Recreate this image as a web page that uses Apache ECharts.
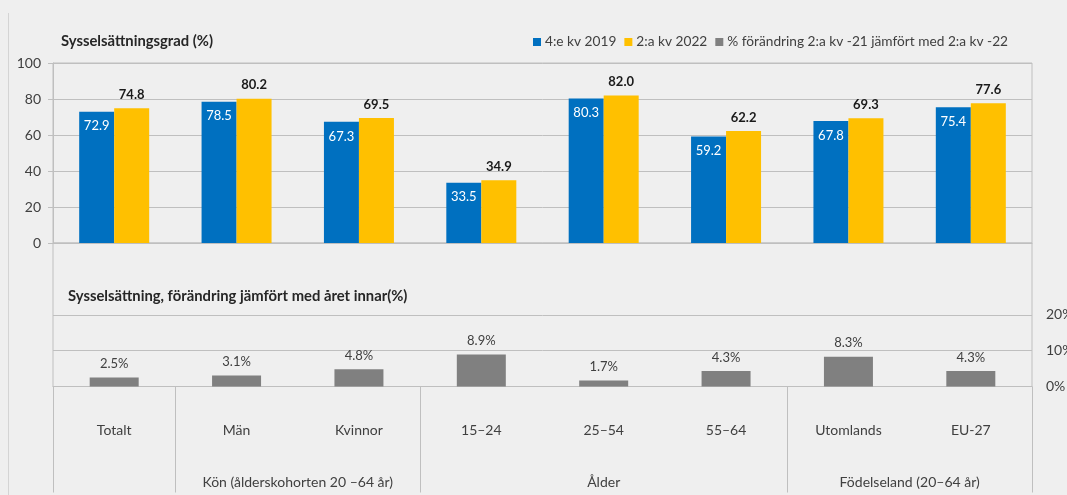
<!DOCTYPE html>
<html>
<head>
<meta charset="utf-8">
<script src="https://cdn.jsdelivr.net/npm/echarts@6/dist/echarts.min.js"></script>
<style>
html, body { margin: 0; padding: 0; background: #efefef; }
#chart { width: 1067px; height: 495px; }
</style>
</head>
<body>
<div id="chart"></div>
<script>
const categories = ['Totalt', 'Män', 'Kvinnor', '15–24', '25–54', '55–64', 'Utomlands', 'EU-27']
const groups = [
  { name: '', span: 1 },
  { name: 'Kön (ålderskohorten 20 –64 år)', span: 2 },
  { name: 'Ålder', span: 3 },
  { name: 'Födelseland (20–64 år)', span: 2 }
]
const rate2019 = [72.9, 78.5, 67.3, 33.5, 80.3, 59.2, 67.8, 75.4]
const rate2022 = [74.8, 80.2, 69.5, 34.9, 82.0, 62.2, 69.3, 77.6]
const change = [2.5, 3.1, 4.8, 8.9, 1.7, 4.3, 8.3, 4.3]
const changeTicks = [0, 10, 20]

const font = 'Lato, "Noto Sans", sans-serif'
const grey = '#bfbfbf'
const textColor = '#404040'

// gruppgränser och gruppmitter (i kategorienheter)
let pos = 0
const groupEdges = [0]
const groupCenters = []
groups.forEach(g => {
  groupCenters.push(pos + g.span / 2)
  pos += g.span
  groupEdges.push(pos)
})

const chart = echarts.init(document.getElementById('chart'))
chart.setOption({
  backgroundColor: '#efefef',
  textStyle: { fontFamily: font },
  animation: false,
  title: [
    {
      text: 'Sysselsättningsgrad (%)',
      left: 61,
      top: 34,
      padding: 0,
      textStyle: { fontFamily: font, fontSize: 14.8, fontWeight: 'bold', color: '#262626' }
    },
    {
      text: 'Sysselsättning, förändring jämfört med året innar(%)',
      left: 68,
      top: 289,
      padding: 0,
      textStyle: { fontFamily: font, fontSize: 14.8, fontWeight: 'bold', color: '#262626' }
    }
  ],
  legend: {
    left: 533,
    top: 35,
    padding: 0,
    icon: 'rect',
    itemWidth: 8,
    itemHeight: 8,
    itemGap: 8,
    textStyle: { fontFamily: font, fontSize: 13.7, color: textColor, padding: [0, 0, 0, -1] },
    data: ['4:e kv 2019', '2:a kv 2022', '% förändring 2:a kv -21 jämfört med 2:a kv -22']
  },
  graphic: [{
    type: 'line',
    shape: { x1: 8.5, y1: 13, x2: 8.5, y2: 495 },
    style: { stroke: '#d4d4d4', lineWidth: 1 }
  }],
  grid: [
    { left: 53, right: 35, top: 63, height: 180, show: true, borderColor: grey, borderWidth: 1, backgroundColor: 'transparent', outerBoundsMode: 'none' },
    { left: 53, right: 35, top: 243, height: 143.5, show: true, borderColor: grey, borderWidth: 1, backgroundColor: 'transparent', outerBoundsMode: 'none' }
  ],
  xAxis: [
    {
      type: 'category',
      gridIndex: 0,
      data: categories,
      axisLine: { lineStyle: { color: grey } },
      axisTick: { interval: 0, length: 5, lineStyle: { color: grey } },
      axisLabel: { show: false }
    },
    {
      type: 'category',
      gridIndex: 1,
      data: categories,
      axisLine: { lineStyle: { color: grey } },
      axisTick: { interval: 0, length: 53, lineStyle: { color: grey } },
      axisLabel: { interval: 0, margin: 37, fontSize: 14, color: textColor, fontFamily: font }
    },
    {
      type: 'value',
      gridIndex: 1,
      position: 'bottom',
      min: 0,
      max: categories.length,
      axisLine: { show: false },
      splitLine: { show: false },
      axisTick: { show: true, customValues: groupEdges, length: 106, lineStyle: { color: grey } },
      axisLabel: {
        customValues: groupCenters,
        margin: 89,
        fontSize: 14,
        color: textColor,
        fontFamily: font,
        formatter: v => {
          const i = groupCenters.indexOf(v)
          return i >= 0 ? groups[i].name : ''
        }
      }
    }
  ],
  yAxis: [
    {
      type: 'value',
      gridIndex: 0,
      min: 0,
      max: 100,
      interval: 20,
      axisLine: { show: true, lineStyle: { color: grey } },
      axisTick: { show: true, length: 5, lineStyle: { color: grey } },
      axisLabel: { fontSize: 14, color: textColor, margin: 12, fontFamily: font },
      splitLine: { lineStyle: { color: grey } }
    },
    {
      type: 'value',
      gridIndex: 1,
      position: 'right',
      min: 0,
      max: 40,
      interval: 10,
      axisLine: { show: false },
      axisTick: { show: true, customValues: changeTicks, length: 6, lineStyle: { color: grey } },
      axisLabel: { customValues: changeTicks, formatter: '{value}%', fontSize: 14, color: textColor, margin: 14, fontFamily: font },
      splitLine: { lineStyle: { color: grey } }
    }
  ],
  series: [
    {
      name: '4:e kv 2019',
      type: 'bar',
      xAxisIndex: 0,
      yAxisIndex: 0,
      data: rate2019,
      barWidth: 35,
      barGap: '0%',
      itemStyle: { color: '#0070c0' },
      label: {
        show: true,
        position: 'insideTop',
        distance: 8,
        color: '#ffffff',
        fontSize: 13,
        fontFamily: font,
        formatter: p => p.value.toFixed(1)
      }
    },
    {
      name: '2:a kv 2022',
      type: 'bar',
      xAxisIndex: 0,
      yAxisIndex: 0,
      data: rate2022,
      barWidth: 35,
      barGap: '0%',
      itemStyle: { color: '#ffc000' },
      label: {
        show: true,
        position: 'top',
        distance: 7,
        color: '#1a1a1a',
        fontWeight: 'bold',
        fontSize: 13,
        fontFamily: font,
        formatter: p => p.value.toFixed(1)
      }
    },
    {
      name: '% förändring 2:a kv -21 jämfört med 2:a kv -22',
      type: 'bar',
      xAxisIndex: 1,
      yAxisIndex: 1,
      data: change,
      barWidth: 49,
      itemStyle: { color: '#808080' },
      label: {
        show: true,
        position: 'top',
        distance: 7,
        color: textColor,
        fontSize: 13,
        fontFamily: font,
        formatter: p => p.value.toFixed(1) + '%'
      }
    }
  ]
})
</script>
</body>
</html>
